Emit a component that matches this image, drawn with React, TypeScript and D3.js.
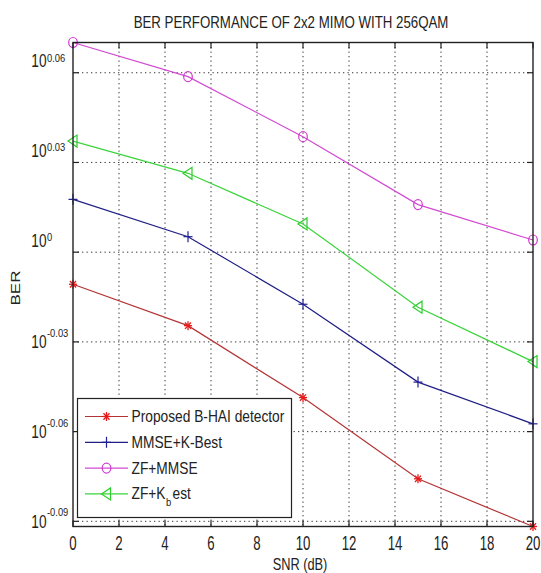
import React from 'react';
import * as d3 from 'd3';

// SNR points (dB) and BER for each detector
const snr = [0, 5, 10, 15, 20];
const proposed = [0.9756, 0.945, 0.8941, 0.8399, 0.8096];
const mmseKBest = [1.0415, 1.012, 0.9607, 0.9048, 0.8762];
const zfMmse = [1.1752, 1.1447, 1.093, 1.0373, 1.0094];
const zfKBest = [1.0893, 1.0626, 1.022, 0.9585, 0.9192];

const xTicks = [0, 2, 4, 6, 8, 10, 12, 14, 16, 18, 20];
const yTickExps = ['-0.09', '-0.06', '-0.03', '0', '0.03', '0.06'];

const seriesNames = ['Proposed B-HAI detector', 'MMSE+K-Best', 'ZF+MMSE', 'ZF+Kbest'];

const W = 541;
const H = 573;
const margin = { left: 73, right: 8, top: 42.5, bottom: 46.5 };
const font = 'Liberation Sans, Arial, Helvetica, sans-serif';

type MarkerKind = 'star' | 'plus' | 'circle' | 'tri';

const Marker = ({ kind, x, y, color }: { kind: MarkerKind; x: number; y: number; color: string }) => {
    if (kind === 'star') {
        return (
            <g stroke={color} strokeWidth={1.3}>
                <line x1={x - 4} y1={y} x2={x + 4} y2={y} />
                <line x1={x} y1={y - 4.5} x2={x} y2={y + 4.5} />
                <line x1={x - 3} y1={y - 3.2} x2={x + 3} y2={y + 3.2} />
                <line x1={x - 3} y1={y + 3.2} x2={x + 3} y2={y - 3.2} />
            </g>
        );
    }
    if (kind === 'plus') {
        return (
            <g stroke={color} strokeWidth={1.2}>
                <line x1={x - 4.5} y1={y} x2={x + 4.5} y2={y} />
                <line x1={x} y1={y - 5.5} x2={x} y2={y + 5.5} />
            </g>
        );
    }
    if (kind === 'circle') {
        return <ellipse cx={x} cy={y} rx={4.3} ry={5} fill="none" stroke={color} strokeWidth={1.2} />;
    }
    return (
        <path
            d={`M${x - 5},${y} L${x + 4},${y - 6} L${x + 4},${y + 6} Z`}
            fill="none"
            stroke={color}
            strokeWidth={1.2}
        />
    );
};

// text squeezed horizontally, like the reference image
const SText = ({ x, y, sx = 0.84, size, anchor = 'start', children }: any) => (
    <text
        transform={`translate(${x},${y}) scale(${sx},1)`}
        fontSize={size}
        textAnchor={anchor}
        fontFamily={font}
        fill="#222"
    >
        {children}
    </text>
);

const App = () => {
    const x0 = margin.left;
    const x1 = W - margin.right;
    const y0 = margin.top;
    const y1 = H - margin.bottom;

    const allVals = [...proposed, ...mmseKBest, ...zfMmse, ...zfKBest];
    const xScale = d3.scaleLinear().domain([0, 20]).range([x0, x1]);
    const yScale = d3.scaleLog().domain(d3.extent(allVals) as [number, number]).range([y1, y0]);

    const series = [
        { name: seriesNames[0], values: proposed, line: '#b33434', mark: '#e81a1a', kind: 'star' as MarkerKind },
        { name: seriesNames[1], values: mmseKBest, line: '#1f1f85', mark: '#1f1f95', kind: 'plus' as MarkerKind },
        { name: seriesNames[2], values: zfMmse, line: '#d24ad2', mark: '#d03ad0', kind: 'circle' as MarkerKind },
        { name: seriesNames[3], values: zfKBest, line: '#3ad43a', mark: '#2ccc2c', kind: 'tri' as MarkerKind },
    ];

    const line = d3.line<number>()
        .x((_, i) => xScale(snr[i]))
        .y(d => yScale(d));

    const yTicks = yTickExps.map(e => ({ e, v: Math.pow(10, +e) }));
    const tickLen = 6;

    const legend = { x: 77.5, y: 398.5, w: 214, h: 119, row0: 416.5, step: 25.8 };

    return (
        <svg width={W} height={H} style={{ position: 'absolute', left: 0, top: 0, background: '#fff' }}>
            <rect width={W} height={H} fill="#fff" />

            {/* grid */}
            <g stroke="#333" strokeWidth={1} strokeDasharray="1.3,3.2">
                {xTicks.slice(1, -1).map(t => (
                    <line key={t} x1={xScale(t)} x2={xScale(t)} y1={y0} y2={y1} />
                ))}
                {yTicks.map(t => (
                    <line key={t.e} x1={x0} x2={x1} y1={yScale(t.v)} y2={yScale(t.v)} />
                ))}
            </g>

            {/* series */}
            {series.map(s => (
                <g key={s.name}>
                    <path d={line(s.values) || ''} fill="none" stroke={s.line} strokeWidth={1.2} />
                    {s.values.map((v, i) => (
                        <Marker key={i} kind={s.kind} x={xScale(snr[i])} y={yScale(v)} color={s.mark} />
                    ))}
                </g>
            ))}

            {/* box and ticks */}
            <rect x={x0} y={y0} width={x1 - x0} height={y1 - y0} fill="none" stroke="#222" strokeWidth={1.4} />
            <g stroke="#222" strokeWidth={1.2}>
                {xTicks.map(t => (
                    <g key={t}>
                        <line x1={xScale(t)} x2={xScale(t)} y1={y1} y2={y1 - tickLen} />
                        <line x1={xScale(t)} x2={xScale(t)} y1={y0} y2={y0 + tickLen} />
                    </g>
                ))}
                {yTicks.map(t => (
                    <g key={t.e}>
                        <line x1={x0} x2={x0 + tickLen} y1={yScale(t.v)} y2={yScale(t.v)} />
                        <line x1={x1} x2={x1 - tickLen} y1={yScale(t.v)} y2={yScale(t.v)} />
                    </g>
                ))}
            </g>

            {/* x tick labels */}
            {xTicks.map(t => (
                <SText key={t} x={xScale(t)} y={549.5} size={20} sx={0.66} anchor="middle">
                    {t}
                </SText>
            ))}

            {/* y tick labels: 10^e */}
            {yTicks.map(t => {
                const ty = yScale(t.v);
                const neg = t.v < 1;
                const base = neg ? ty + 6.5 : ty - 5.5;
                const sup = neg ? ty - 5 : ty - 11;
                return (
                    <g key={t.e}>
                        <SText x={46.5} y={base} size={19} sx={0.72} anchor="end">10</SText>
                        <SText x={47} y={sup} size={11} sx={0.85}>{t.e}</SText>
                    </g>
                );
            })}

            {/* title and axis labels */}
            <SText x={291} y={28} size={16} sx={0.83} anchor="middle">
                BER PERFORMANCE OF 2x2 MIMO WITH 256QAM
            </SText>
            <SText x={300} y={569.5} size={16} sx={0.8} anchor="middle">
                SNR (dB)
            </SText>
            <text
                transform="translate(20,288) rotate(-90) scale(1,0.8)"
                fontSize={17}
                textAnchor="middle"
                fontFamily={font}
                fill="#222"
            >
                BER
            </text>

            {/* legend */}
            <rect x={legend.x} y={legend.y} width={legend.w} height={legend.h} fill="#fff" stroke="#222" strokeWidth={1.2} />
            {series.map((s, i) => {
                const ly = legend.row0 + i * legend.step;
                return (
                    <g key={s.name}>
                        <line x1={85} x2={128} y1={ly} y2={ly} stroke={s.line} strokeWidth={1.2} />
                        <Marker kind={s.kind} x={106.5} y={ly} color={s.mark} />
                        {s.kind === 'tri' ? (
                            <g>
                                <SText x={131.5} y={ly + 5.5} size={16} sx={0.86}>ZF+K</SText>
                                <SText x={166} y={ly + 12.5} size={11} sx={0.86}>b</SText>
                                <SText x={172.5} y={ly + 5.5} size={16} sx={0.86}>est</SText>
                            </g>
                        ) : (
                            <SText x={131.5} y={ly + 5.5} size={16} sx={0.86}>{s.name}</SText>
                        )}
                    </g>
                );
            })}
        </svg>
    );
};

export default App;
